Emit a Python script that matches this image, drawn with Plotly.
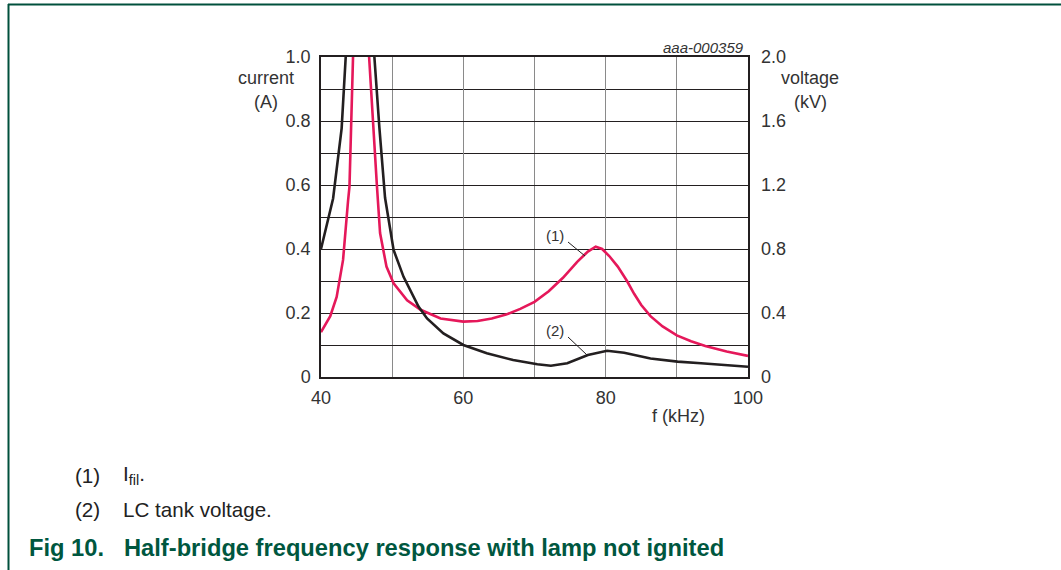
import plotly.graph_objects as go

# ---------------- data ----------------
f_fil = [40, 41.3, 42.2, 43.1, 43.8, 44.0, 44.5, 44.56, None,
         46.7, 46.76, 47.85, 48.3, 49.2, 50.2, 52.1, 54, 56.8, 60, 62, 64, 66, 68, 70,
         72, 74, 76, 77.5, 78.6, 79.5, 80.5, 81.7, 83, 84, 85, 86.3, 88, 90, 92, 94, 97, 100]
i_fil = [0.14, 0.19, 0.25, 0.366, 0.55, 0.595, 1.0, 1.03, None,
         1.03, 1.0, 0.6, 0.45, 0.345, 0.293, 0.24, 0.21, 0.183, 0.173, 0.175, 0.183, 0.195, 0.213, 0.235,
         0.268, 0.31, 0.36, 0.392, 0.407, 0.4, 0.378, 0.345, 0.3, 0.26, 0.225, 0.19, 0.158, 0.13, 0.112, 0.097, 0.08, 0.066]

f_lc = [40, 40.8, 41.7, 42.9, 43.5, 43.55, None,
        47.45, 47.5, 48.2, 49.0, 50.2, 51.6, 53.7, 54.9, 57.2, 60, 63.3, 67, 70.4, 72.3,
        74.6, 77.5, 80.2, 82.6, 86.3, 90.1, 93.4, 100]
v_lc = [0.8, 0.94, 1.116, 1.554, 2.0, 2.06, None,
        2.06, 2.0, 1.56, 1.12, 0.794, 0.626, 0.44, 0.366, 0.272, 0.2, 0.148, 0.106, 0.08, 0.07,
        0.086, 0.138, 0.164, 0.152, 0.116, 0.096, 0.086, 0.064]

x_ticks = [40, 60, 80, 100]
x_labels = ["40", "60", "80", "100"]
yl_ticks = [0, 0.2, 0.4, 0.6, 0.8, 1.0]
yl_labels = ["0", "0.2", "0.4", "0.6", "0.8", "1.0"]
yr_ticks = [0, 0.4, 0.8, 1.2, 1.6, 2.0]
yr_labels = ["0", "0.4", "0.8", "1.2", "1.6", "2.0"]

# ---------------- layout geometry ----------------
W, H = 1061, 570
L, R, T, B = 321, 748, 57, 377

def px(x):
    return (x - L) / (R - L)

def py(y):
    return (B - y) / (B - T)

RED = "#e5185a"
BLK = "#231f20"
GRAY = "#8a8a8a"
GREEN = "#00573f"
FONT = "Liberation Sans, Arial, sans-serif"

fig = go.Figure()
fig.add_trace(go.Scatter(x=f_fil, y=i_fil, mode="lines", line=dict(color=RED, width=2.6),
                         connectgaps=False, yaxis="y", showlegend=False, hoverinfo="skip"))
fig.add_trace(go.Scatter(x=f_lc, y=v_lc, mode="lines", line=dict(color=BLK, width=2.6),
                         connectgaps=False, yaxis="y2", showlegend=False, hoverinfo="skip"))

fig.update_layout(
    width=W, height=H,
    margin=dict(l=L, r=W - R, t=T, b=H - B, pad=0),
    paper_bgcolor="white", plot_bgcolor="white",
    font=dict(family=FONT, size=18, color=BLK),
    xaxis=dict(range=[40, 100], tickvals=x_ticks, ticktext=x_labels, showgrid=True,
               gridcolor=GRAY, gridwidth=1.2, zeroline=False, showline=True, linecolor=BLK,
               linewidth=1.5, mirror=True, ticks="", ticklabelstandoff=4,
               tickfont=dict(size=18, color="#333"),
               minor=dict(tickmode="linear", tick0=40, dtick=10, showgrid=True,
                          gridcolor=GRAY, gridwidth=1.2, ticks="")),
    yaxis=dict(range=[0, 1.0], tickvals=yl_ticks, ticktext=yl_labels, showgrid=True,
               gridcolor=BLK, gridwidth=1.2, zeroline=False, showline=True, linecolor=BLK,
               linewidth=1.5, mirror=True, ticks="", ticklabelstandoff=5,
               tickfont=dict(size=18, color="#333"),
               minor=dict(tickmode="linear", tick0=0, dtick=0.1, showgrid=True,
                          gridcolor=BLK, gridwidth=1.2, ticks="")),
    yaxis2=dict(range=[0, 2.0], overlaying="y", side="right", tickvals=yr_ticks,
                ticktext=yr_labels, showgrid=False, zeroline=False, showline=False,
                ticks="", ticklabelstandoff=12, tickfont=dict(size=18, color="#333")),
)

ann = []
def txt(x, y, s, size=18, xa="center", ya="middle", color="#333", **kw):
    ann.append(dict(x=px(x), y=py(y), xref="paper", yref="paper", text=s, showarrow=False,
                    xanchor=xa, yanchor=ya, font=dict(size=size, color=color, family=FONT), **kw))

txt(266, 78, "current")
txt(266, 102, "(A)")
txt(810, 78, "voltage")
txt(810, 102, "(kV)")
txt(678, 416, "f (kHz)")
txt(746, 47, "<i>aaa-000359</i>", size=15, xa="right")
txt(555, 235, "(1)", size=15)
txt(555, 330, "(2)", size=15)

# caption
txt(88, 475, "(1)", size=20.6, color="#222")
txt(121, 475, "I<sub>fil</sub>.", size=20.6, xa="left", color="#222")
txt(88, 509, "(2)", size=20.6, color="#222")
txt(121, 509, "LC tank voltage.", size=20.6, xa="left", color="#222")
txt(27, 548, "<b>Fig 10.</b>", size=23.7, xa="left", color=GREEN)
txt(122, 548, "<b>Half-bridge frequency response with lamp not ignited</b>", size=23.7, xa="left", color=GREEN)

shapes = [
    # leader lines
    dict(type="line", xref="paper", yref="paper", x0=px(568), y0=py(242), x1=px(585), y1=py(256),
         line=dict(color=BLK, width=1)),
    dict(type="line", xref="paper", yref="paper", x0=px(568), y0=py(337), x1=px(587), y1=py(355),
         line=dict(color=BLK, width=1)),
    # page frame
    dict(type="line", xref="paper", yref="paper", x0=px(8), y0=py(4.5), x1=px(1061), y1=py(4.5),
         line=dict(color="#00503c", width=2)),
    dict(type="line", xref="paper", yref="paper", x0=px(8.5), y0=py(4), x1=px(8.5), y1=py(570),
         line=dict(color="#00503c", width=2)),
]

fig.update_layout(annotations=ann, shapes=shapes)
fig.write_html("out.html", config={"displayModeBar": False},
               post_script="document.body.style.margin='0';document.body.style.overflow='hidden';")
